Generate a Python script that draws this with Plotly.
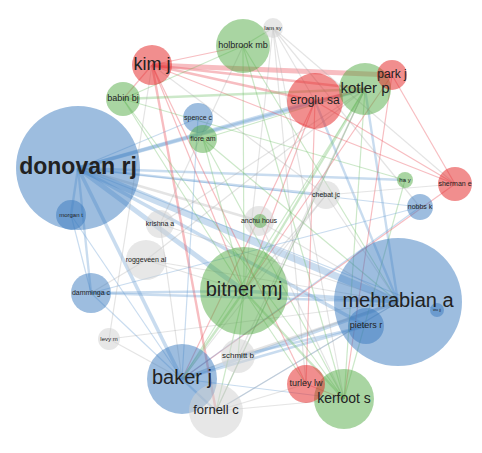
import plotly.graph_objects as go

names = ["donovan rj","morgan t","kim j","holbrook mb","lam sy","park j","eroglu sa","kotler p",
         "babin bj","spence c","fiore am","ha y","sherman e","chebat jc","nobbs k","krishna a",
         "anchu hous","hu","roggeveen al","damminga c","bitner mj","mehrabian a","pieters r","wu jj",
         "levy m","schmitt b","baker j","fornell c","turley lw","kerfoot s"]
xs = [70,63,144,235,265,384,307,357,115,190,195,397,447,318,412,152,251,252,138,83,236,390,358,429,101,230,174,208,298,336]
ys = [160,207,57,38,20,67,93,81,91,110,131,172,176,187,199,216,213,213,252,285,283,294,318,302,331,348,371,403,376,391]
radius = [62,15,20,27,10,15,28,26,17,15,14,8,17,14,13,14,15,7,20,20,44,64,18,7,11,17,35,27,19,30]
cluster = ["b","b","r","g","n","r","r","g","g","b","g","g","r","n","b","n","n","g","n","b","g","b","b","b","n","n","b","n","r","g"]
fonts = [23,6,18,9,6,12,12,15,9,7,7,6,7,7,7,7,7,1,7,7,20,20,9,4,6,8,20,13,9,14]

edges = [("donovan rj","mehrabian a",6),("donovan rj","bitner mj",4),("donovan rj","baker j",3),("donovan rj","pieters r",3),
         ("donovan rj","kotler p",3),("donovan rj","eroglu sa",3),("donovan rj","damminga c",2),("donovan rj","morgan t",2),
         ("donovan rj","ha y",2),("donovan rj","chebat jc",2),("donovan rj","nobbs k",1),("donovan rj","spence c",1),
         ("mehrabian a","baker j",3),("mehrabian a","bitner mj",3),("mehrabian a","damminga c",2),("mehrabian a","kotler p",2),
         ("mehrabian a","eroglu sa",2),("mehrabian a","fornell c",1),("pieters r","baker j",2),("pieters r","schmitt b",2),
         ("kim j","park j",4),("kim j","eroglu sa",2),("kim j","kotler p",2),("kim j","holbrook mb",1),("kim j","sherman e",1),
         ("kim j","fornell c",2),("kim j","bitner mj",1),("kim j","turley lw",1),("kim j","babin bj",1),
         ("eroglu sa","kotler p",2),("eroglu sa","turley lw",1),("eroglu sa","baker j",1),("eroglu sa","bitner mj",1),
         ("park j","sherman e",1),("park j","kerfoot s",1),("kotler p","babin bj",2),("kotler p","bitner mj",2),
         ("kotler p","kerfoot s",1),("kotler p","fiore am",1),("kotler p","baker j",1),("kotler p","fornell c",1),
         ("holbrook mb","bitner mj",1),("holbrook mb","kerfoot s",1),("holbrook mb","lam sy",1),("holbrook mb","babin bj",1),
         ("holbrook mb","mehrabian a",1),("lam sy","kerfoot s",1),("lam sy","nobbs k",1),("lam sy","turley lw",1),
         ("babin bj","bitner mj",1),("babin bj","kerfoot s",1),("babin bj","ha y",1),("fiore am","bitner mj",1),
         ("fiore am","kerfoot s",1),("fiore am","mehrabian a",1),("spence c","baker j",1),("ha y","kerfoot s",1),
         ("sherman e","baker j",1),("sherman e","eroglu sa",1),("chebat jc","baker j",1),("chebat jc","bitner mj",1),
         ("nobbs k","damminga c",1),("nobbs k","baker j",1),("krishna a","mehrabian a",1),("krishna a","baker j",1),
         ("anchu hous","mehrabian a",1),("roggeveen al","bitner mj",1),("roggeveen al","mehrabian a",1),
         ("damminga c","baker j",1),("damminga c","bitner mj",2),("bitner mj","baker j",2),("bitner mj","kerfoot s",2),
         ("bitner mj","turley lw",1),("bitner mj","fornell c",1),("bitner mj","schmitt b",1),("levy m","baker j",1),
         ("levy m","kim j",1),("schmitt b","mehrabian a",2),("baker j","fornell c",2),("baker j","kerfoot s",1),
         ("fornell c","turley lw",1),("fornell c","kerfoot s",1),("turley lw","kerfoot s",1),("wu jj","donovan rj",1),
         ("morgan t","baker j",1),("morgan t","damminga c",1),("lam sy","eroglu sa",1),("park j","bitner mj",1),
         ("lam sy","bitner mj",1),("lam sy","sherman e",1),("chebat jc","kim j",1),("chebat jc","mehrabian a",1),
         ("fornell c","mehrabian a",1),("fornell c","kotler p",1),("schmitt b","kotler p",1),("roggeveen al","kotler p",1),
         ("krishna a","kotler p",1),("anchu hous","donovan rj",2),("anchu hous","kerfoot s",1),("levy m","mehrabian a",1),
         ("chebat jc","sherman e",1),("roggeveen al","damminga c",1),("krishna a","holbrook mb",1),("schmitt b","baker j",1)]

fill = {"b":"rgba(55,120,190,0.7)","g":"rgba(80,170,65,0.7)","r":"rgba(228,40,40,0.75)","n":"rgba(210,210,210,0.75)"}
line = {"b":"rgba(100,155,210,0.35)","g":"rgba(110,190,100,0.35)","r":"rgba(235,90,100,0.4)","n":"rgba(165,165,165,0.3)"}
idx = {n:i for i,n in enumerate(names)}

fig = go.Figure()
for a,b,w in edges:
    i,j = idx[a],idx[b]
    fig.add_trace(go.Scatter(x=[xs[i],xs[j]],y=[ys[i],ys[j]],mode="lines",
        line=dict(color=line[cluster[i]],width=1.2*w),hoverinfo="skip",showlegend=False))

order = sorted(range(len(names)), key=lambda k:-radius[k])
fig.add_trace(go.Scatter(x=[xs[k] for k in order],y=[ys[k] for k in order],mode="markers",
    marker=dict(size=[2*radius[k] for k in order],color=[fill[cluster[k]] for k in order],line=dict(width=0)),
    showlegend=False,hoverinfo="skip"))
lab = [k for k in order if names[k]!="hu"]
fig.add_trace(go.Scatter(x=[xs[k] for k in lab],y=[ys[k] for k in lab],mode="text",
    text=[("<b>%s</b>" % names[k]) if names[k]=="donovan rj" else names[k] for k in lab],
    textfont=dict(family="Arial, Liberation Sans",size=[fonts[k] for k in lab],color="#222"),
    showlegend=False,hoverinfo="skip"))

fig.update_layout(width=482,height=453,margin=dict(l=0,r=0,t=0,b=0),plot_bgcolor="white",paper_bgcolor="white",
    xaxis=dict(range=[0,482],visible=False),yaxis=dict(range=[453,0],visible=False))
fig.write_html("out.html")
